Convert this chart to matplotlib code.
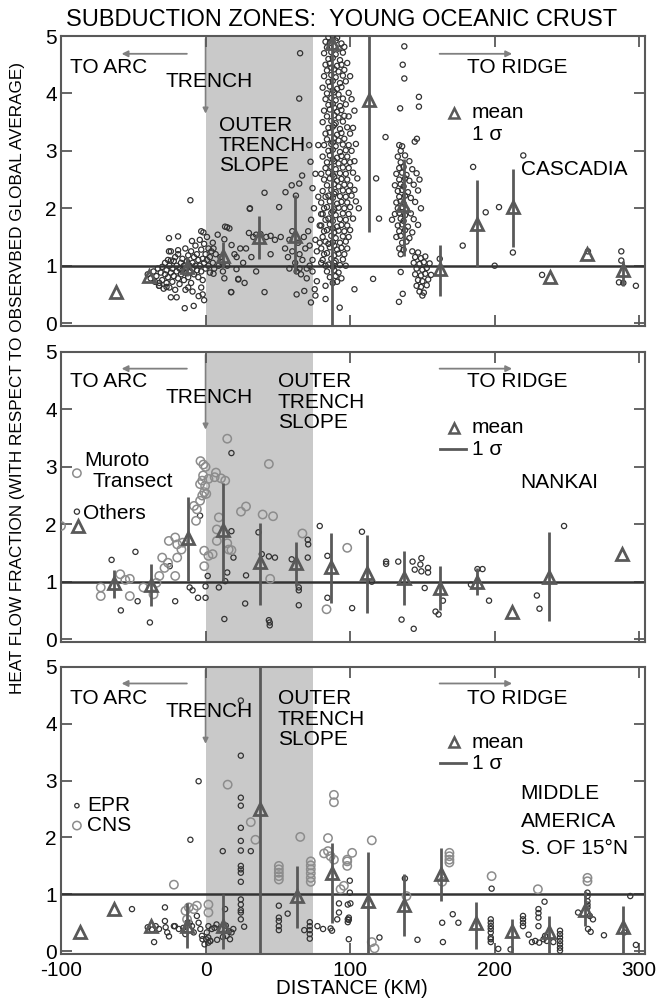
import matplotlib
matplotlib.use('Agg')
import matplotlib.pyplot as plt

plt.rcParams['font.family'] = ['Liberation Sans', 'DejaVu Sans']
plt.rcParams['axes.unicode_minus'] = False

# ---------------- DATA ----------------
x_ticks = [-100, 0, 100, 200, 300]
y_ticks = [0, 1, 2, 3, 4, 5]
slope_zone = (0, 74)

# Cascadia heat-flow points (km, fraction)
cas_left = [(-40,0.85),(-38,0.78),(-36,0.9),(-35,0.72),(-34,0.82),(-33,0.95),(-32,0.65),(-31,0.88),(-30,0.75),(-30,0.98),
    (-29,0.6),(-28,0.85),(-28,1.05),(-27,0.7),(-27,0.92),(-26,1.1),(-26,0.8),(-25,0.62),(-25,1.0),(-24,0.88),(-24,1.25),
    (-23,0.72),(-23,0.95),(-22,1.08),(-22,0.82),(-21,0.58),(-21,1.15),(-20,0.9),(-20,1.0),(-19,0.78),(-19,1.2),(-18,0.95),
    (-18,0.68),(-17,1.05),(-17,0.85),(-16,1.12),(-16,0.92),(-15,0.75),(-15,1.0),(-14,1.3),(-14,0.88),(-13,1.08),(-13,0.95),
    (-12,0.8),(-12,1.18),(-11,1.0),(-11,0.9),(-10,1.25),(-10,0.7),(-9,1.05),(-9,0.95),(-8,1.15),(-8,0.85),(-7,1.35),(-7,1.0),
    (-6,0.92),(-6,1.2),(-5,1.1),(-5,0.8),(-4,1.45),(-4,1.0),(-3,0.9),(-3,1.28),(-2,1.12),(-2,0.75),(-1,1.05),(-1,1.38),(0,0.95),
    (0,1.2),(1,1.1),(1,1.5),(2,1.0),(2,1.3),(3,1.15),(3,0.88),(4,1.25),(5,1.05),(5,1.4),(6,0.95),(7,1.2),(-3,0.62),(-2,0.5),
    (-1,0.4),(-20,0.45),(-9,0.55),(-12,0.62),(-32,0.7),(-10.5,2.14),(-25.3,1.48),(-19,1.51),(-25.3,1.25),(-19,1.27),(-24,1.09),
    (-14.4,0.26),(-8.2,0.30),(-24,0.45),(-4.8,0.47),(-13.9,0.58),(-32.2,0.65),(-27,0.63),(-9.4,1.43),(-3,1.6),(-1.5,1.58)]
cas_slope = [(13.5,1.68),(16.5,1.65),(8.4,1.54),(13,1.46),(18,1.36),(24,1.3),(31.7,1.15),(21.5,1.15),(22.6,0.76),(17.6,0.54),
    (21.4,0.94),(5.5,1.3),(10.3,1.15),(11.2,1.06),(5.5,0.86),(13,0.78),(30,1.57),(35,1.54),(30.6,1.99),(14.9,1.67),(17.8,0.54),
    (22.7,0.77),(9,1.0),(15,1.0),(26,1.05),(28,1.3),(33,1.5),(38,1.55),(42,1.5),(45,1.52),(48,1.45),(52,1.5),(40.8,2.27),
    (30.7,2.0),(50.9,2.02),(40.8,0.54),(35,0.9),(45,1.2),(27,0.7),(20,1.2),(12,0.9),
    (55,1.3),(57,1.15),(58,0.95),(60,1.25),(62,1.05),(63,0.9),(64,1.4),(65,1.2),(66,0.85),(67,1.1),(68,1.5),(69,1.3),(70,0.95),
    (71,1.6),(72,1.35),(73,1.8),(74,1.1),(75,2.0),(76,1.45),(77,1.25),(78,2.2),(79,1.7),(80,1.05),(80,1.9),(63,0.5),(68.3,0.56),
    (75.5,0.59),(76,0.48),(72.9,0.36),(77,0.73),(83,0.65),(83,0.42),(92.8,0.27),(103,0.59),(65.4,4.7),(64.8,3.91),(71.7,3.1),
    (72.6,2.81),(66.8,2.57),(64.8,2.43),(59.6,2.4),(55.3,2.28),(62.5,2.22),(60,1.6),(58,1.45),(65,0.95),(70,0.78),(74,0.9),
    (72,1.0),(76,2.6),(74,2.35),(78,3.1)]
cas_peak = [(85,4.98),(88,5.0),(91,4.97),(83,4.9),(86,4.88),(90,4.92),(94,4.87),(84,4.8),(89,4.82),(92,4.78),(96,4.81),
    (82,4.7),(87,4.72),(90,4.68),(95,4.71),(85,4.6),(88,4.62),(93,4.58),(83,4.5),(86,4.52),(91,4.48),(94,4.5),(98,4.53),
    (84,4.4),(89,4.42),(92,4.38),(96,4.41),(82,4.3),(87,4.32),(90,4.28),(95,4.31),(100,4.3),(85,4.2),(88,4.22),(93,4.18),
    (97,4.21),(81,4.1),(86,4.12),(91,4.08),(94,4.11),(84,4.0),(89,4.02),(92,3.98),(99,4.01),(83,3.9),(87,3.92),(90,3.88),
    (95,3.91),(101,3.9),(85,3.8),(88,3.82),(93,3.78),(97,3.81),(82,3.7),(86,3.72),(91,3.68),(94,3.71),(103,3.7),(84,3.6),
    (89,3.62),(92,3.58),(96,3.61),(99,3.6),(81,3.5),(87,3.52),(90,3.48),(95,3.51),(85,3.4),(88,3.42),(93,3.38),(98,3.41),
    (102,3.4),(83,3.3),(86,3.32),(91,3.28),(94,3.31),(100,3.3),(84,3.2),(89,3.22),(92,3.18),(96,3.21),(82,3.1),(87,3.12),
    (90,3.08),(95,3.11),(99,3.1),(104,3.12),(85,3.0),(88,3.02),(93,2.98),(97,3.01),(101,3.0),(81,2.9),(86,2.92),(91,2.88),
    (94,2.91),(98,2.9),(84,2.8),(89,2.82),(92,2.78),(96,2.81),(100,2.8),(103,2.82),(83,2.7),(87,2.72),(90,2.68),(95,2.71),
    (99,2.7),(80,2.6),(85,2.62),(88,2.58),(93,2.61),(97,2.6),(102,2.62),(82,2.5),(86,2.52),(91,2.48),(94,2.51),(98,2.5),
    (105,2.52),(84,2.4),(89,2.42),(92,2.38),(96,2.41),(100,2.4),(81,2.3),(87,2.32),(90,2.28),(95,2.31),(99,2.3),(103,2.32),
    (83,2.2),(85,2.22),(88,2.18),(93,2.21),(97,2.2),(101,2.22),(80,2.1),(86,2.12),(91,2.08),(94,2.11),(98,2.1),(104,2.12),
    (82,2.0),(84,2.02),(89,1.98),(92,2.01),(96,2.0),(100,2.02),(106,2.0),(81,1.9),(87,1.92),(90,1.88),(95,1.91),(99,1.9),
    (83,1.8),(85,1.82),(88,1.78),(93,1.81),(97,1.8),(102,1.82),(80,1.7),(86,1.72),(91,1.68),(94,1.71),(98,1.7),(82,1.6),
    (84,1.62),(89,1.58),(92,1.61),(96,1.6),(100,1.62),(81,1.5),(87,1.52),(90,1.48),(95,1.51),(99,1.5),(79,1.4),(83,1.42),
    (85,1.38),(88,1.41),(93,1.4),(97,1.42),(80,1.3),(86,1.32),(91,1.28),(94,1.31),(98,1.3),(82,1.2),(84,1.22),(89,1.18),
    (92,1.21),(96,1.2),(81,1.1),(87,1.12),(90,1.08),(95,1.11),(83,1.0),(85,1.02),(88,0.98),(93,1.01),(97,1.0),(84,0.9),
    (89,0.92),(92,0.88),(86,0.8),(90,0.82),(94,0.78),(88,0.7),(91,0.72),(87,4.45),(89,3.75),(88,3.15),(89,2.55),(88,1.95),
    (89,1.35),(88,4.05),(89,3.45),(88,2.85),(89,2.25),(88,1.65),(89,1.05)]
cas_second = [(134,3.1),(136,3.08),(135,3.0),(133,2.9),(138,2.92),(135,2.8),(141,2.82),(134,2.7),(137,2.72),(143,2.68),
    (132,2.6),(136,2.62),(139,2.58),(146,2.61),(134,2.5),(138,2.52),(141,2.48),(148,2.5),(131,2.4),(135,2.42),(137,2.38),
    (144,2.41),(133,2.3),(136,2.32),(140,2.28),(147,2.31),(134,2.2),(138,2.22),(142,2.18),(132,2.1),(135,2.12),(137,2.08),
    (145,2.11),(133,2.0),(136,2.02),(139,1.98),(149,2.0),(131,1.9),(134,1.92),(138,1.88),(142,1.91),(129,1.8),(135,1.82),
    (137,1.78),(144,1.81),(133,1.7),(136,1.72),(140,1.68),(147,1.71),(134,1.6),(138,1.62),(143,1.58),(132,1.5),(135,1.52),
    (141,1.48),(136,1.4),(139,1.42),(134,1.3),(137,1.28),(135,1.2),
    (143,1.25),(147,1.23),(145,1.15),(149,1.13),(152,1.16),(144,1.05),(148,1.03),(151,1.06),(155,1.04),(146,0.95),(150,0.93),
    (153,0.96),(145,0.85),(149,0.83),(152,0.86),(156,0.84),(147,0.75),(150,0.73),(154,0.76),(146,0.65),(149,0.63),(153,0.66),
    (148,0.55),(151,0.53),(150,0.48)]
cas_far = [(115.9,0.77),(120,1.82),(118,2.52),(124.5,3.24),(133.8,0.37),(136.4,0.51),(135,0.89),(137.5,4.82),(136.4,4.5),
    (137.5,4.26),(134.6,3.74),(147.6,3.94),(147.6,3.77),(146.2,3.21),(144.7,3.16),(177.9,1.35),(193.8,1.93),(185.1,2.72),
    (203,2.02),(219.8,2.92),(212.6,1.23),(200,1.0),(232.8,0.84),(264.5,1.25),(287.6,1.25),(287.6,1.09),(286,0.71),
    (289,0.7),(297.7,0.65),(162,1.12)]

cas_mean_x = [-62, -39, -13, 12, 37, 62, 87.6, 113, 136.5, 162, 187.5, 213, 238, 264, 289]
cas_mean_y = [0.55, 0.82, 0.97, 1.17, 1.5, 1.51, 4.88, 3.88, 2.05, 0.95, 1.72, 2.02, 0.8, 1.2, 0.93]
cas_sig_x = [-13, 12, 37, 62, 87.6, 113, 137, 162, 187.5, 213, 289]
cas_sig_lo = [0.82, 0.98, 1.12, 0.88, -0.1, 1.58, 1.17, 0.48, 0.97, 1.33, 0.65]
cas_sig_hi = [1.15, 1.42, 1.86, 2.23, 5.0, 5.0, 2.86, 1.36, 2.5, 2.68, 1.09]

# Nankai
nk_others = [(-65,1.38),(-48.5,1.52),(-58.6,0.5),(-38.5,0.29),(-47,0.66),(-24.8,1.27),(-21,0.66),(-11,0.9),(-9,0.85),
    (-5.2,0.72),(0,0.72),(0,0.92),(1.5,1.1),(-3.8,2.15),(9.2,0.9),(13.6,1.01),(15,1.16),(17.9,1.88),(17.9,3.24),(19.3,1.42),
    (13,0.35),(28,1.11),(27.4,0.62),(36.6,1.86),(38.9,1.48),(43.8,1.44),(48,1.42),(43.8,0.33),(44.4,0.29),(44.4,0.24),
    (59.6,1.39),(64.5,0.9),(64.5,0.85),(64.5,0.59),(70.7,1.73),(71,1.65),(70.7,1.42),(79,1.97),(84.3,1.45),(84.3,0.72),
    (101.4,0.54),(108.2,1.87),(115,1.0),(124.9,1.35),(124.9,1.31),(133.3,1.35),(135.6,0.34),(143.2,1.35),(144,0.18),
    (144.7,1.21),(148.6,1.3),(149.3,1.41),(149.3,1.18),(151.6,0.89),(153.9,1.24),(153.9,1.16),(159.1,0.48),(161.2,0.43),
    (164.2,0.67),(183.6,0.95),(188.1,1.22),(191.6,1.22),(196.1,0.67),(229.2,0.76),(231,0.53),(248,1.97)]
nk_muroto = [(-100,1.97),(-72.5,0.9),(-72.5,0.75),(-59,1.13),(-55.5,1.03),(-52.4,1.05),(-52.4,0.75),(-43,0.9),(-36,0.78),
    (-34,0.98),(-32,1.1),(-28.4,1.24),(-26,1.33),(-30,1.42),(-25.4,1.71),(-21,1.77),(-19.6,1.65),(-16.7,1.56),(-15.8,1.68),
    (-21,1.1),(-19.6,1.42),(-8,2.32),(-6,2.26),(-3.8,2.41),(-2.3,2.5),(-0.9,2.56),(-3.5,3.1),(-1.5,3.04),(0,3.0),(-1.7,2.85),
    (-2.3,2.76),(-3.8,2.7),(-0.3,2.67),(0.5,2.53),(2,2.79),(-6.6,2.06),(-0.9,1.54),(2,1.45),(-0.9,1.27),(7.2,2.9),(6.3,2.82),
    (10.7,2.8),(13.6,2.76),(15,3.49),(7.8,1.91),(9.2,2.12),(7.8,1.71),(4.9,1.48),(16,1.56),(17.9,1.55),(15,1.67),(24.5,2.22),
    (28,2.31),(39.5,2.17),(46.7,2.14),(43.8,3.05),(44.7,1.05),(67,1.84),(83.7,0.52),(98,1.59)]
nk_mean_x = [-88, -63, -38, -12, 12, 37.5, 62.5, 87, 112, 137, 162.5, 187.5, 212, 237.5, 288]
nk_mean_y = [1.97, 0.98, 0.95, 1.76, 1.9, 1.34, 1.33, 1.26, 1.15, 1.06, 0.89, 0.99, 0.48, 1.08, 1.49]
nk_sig_x = [-63, -38, -12, 12, 37.5, 62.5, 87, 112, 137, 162.5, 187.5, 237.5]
nk_sig_lo = [0.72, 0.57, 1.01, 1.01, 0.6, 0.92, 0.63, 0.46, 0.6, 0.51, 0.77, 0.31]
nk_sig_hi = [1.2, 1.3, 2.48, 2.72, 2.03, 1.7, 1.85, 1.82, 1.53, 1.28, 1.24, 1.87]

# Middle America
ma_epr = [(-50.9,0.74),(-28.1,0.77),(-35.6,0.16),(-34.5,0.44),(-32.2,0.39),(-28.1,0.53),(-27.6,0.42),(-26.5,0.33),
    (-25.3,0.26),(-21.9,0.44),(-18.5,0.39),(-21.2,0.44),(-15.4,0.41),(-12.6,0.5),(-10.5,1.96),(-4.8,2.99),(-9.4,0.44),
    (-8.2,0.33),(-6,0.62),(-4.8,0.5),(-3.6,0.39),(-2.5,0.27),(-2.1,0.21),(-0.7,0.12),(0.9,0.33),(2,0.44),(3.2,0.18),
    (4.3,0.39),(1.9,0.15),(1.9,0.24),(3.3,0.18),(0.4,0.21),(6.2,0.41),(7.6,0.47),(10.5,0.39),(11.9,1.76),(13.5,0.74),
    (14.6,0.27),(16.9,0.21),(18,0.33),(19.2,0.39),(24.4,4.41),(24.4,3.44),(24.4,2.7),(24.4,2.56),(24.4,2.17),(24.4,1.94),
    (24.4,1.77),(31.3,1.76),(24.4,1.5),(24.4,1.44),(24.4,1.38),(24.4,1.22),(24.4,0.91),(24.4,0.82),(24.4,0.72),(24.4,0.68),
    (24.4,0.56),(26.7,0.43),(50.7,0.8),(50.7,0.59),(50.7,0.53),(50.7,0.44),(50.7,0.37),(56.8,0.66),(68.3,0.37),(72.1,0.51),
    (72.1,0.44),(72.1,0.37),(72.1,0.3),(72.1,0.22),(77.4,0.44),(81.3,0.39),(86.5,0.4),(87.5,0.36),(91.1,0.56),(92.3,0.84),
    (92.3,0.68),(99.1,0.59),(99.1,0.55),(99.1,0.21),(99.8,1.24),(99.8,1.03),(100.2,0.84),(98.4,0.82),(98.4,0.56),
    (98.4,0.51),(120.3,0.24),(137.9,1.28),(146.6,0.2),(163.7,0.5),(164.2,0.16),(171,0.65),(174.9,0.5),(197.9,1.1),
    (197.3,0.56),(197.3,0.5),(197.3,0.44),(197.3,0.39),(197.3,0.33),(197.3,0.24),(197.3,0.21),(197.3,0.16),(202.5,0.04),
    (211,0.03),(219.6,0.62),(219.6,0.56),(219.6,0.5),(219.6,0.44),(223.5,0.29),(230.3,0.74),(230.3,0.67),(230.3,0.59),
    (230.3,0.44),(234.5,0.87),(225.8,0.16),(228.1,0.18),(230.8,0.15),(233.8,0.21),(236.1,0.18),(240.6,0.16),(234.9,0.27),
    (245.2,0.36),(245.2,0.3),(245.2,0.24),(245.2,0.18),(245.2,0.12),(245.2,0.06),(245.2,0.01),(264.2,1.03),(264.2,0.97),
    (264.2,0.88),(264.2,0.82),(264.2,0.77),(265.8,0.62),(268,0.56),(264.6,0.39),(266.4,0.34),(257.7,0.68),(275.6,0.28),
    (293.8,0.97),(297.7,0.11),(289.7,0.33),(-40,0.42),(-37,0.38),(-14,0.3),(-11,0.5),(8,0.2),(12,0.25),(14,0.45),(16,0.35)]
ma_cns = [(-21.9,1.17),(-13.9,0.71),(-11.6,0.77),(-8.2,0.74),(-6,0.8),(-12.8,0.56),(2,0.82),(2,0.68),(15.3,2.93),
    (31.3,2.27),(34.5,1.96),(65.5,2.01),(50.7,1.5),(50.7,1.44),(50.7,1.38),(50.7,1.32),(50.7,1.26),(72.8,1.58),(72.8,1.51),
    (72.8,1.44),(72.8,1.37),(72.8,1.29),(72.8,1.22),(84.7,1.99),(82,1.72),(84.7,1.76),(86.5,1.67),(88.8,1.61),(88.8,2.75),
    (88.8,2.62),(98,1.58),(98,1.5),(101.4,1.73),(93.4,1.09),(95.7,1.15),(98,1.61),(115,1.95),(115,0.16),(116.9,0.05),
    (139,0.97),(163.7,1.22),(168.7,1.73),(168.7,1.67),(168.7,1.61),(168.7,1.56),(197.9,1.32),(229.9,1.09),(264.2,1.29),
    (264.2,1.23)]
ma_mean_x = [-87, -63, -38, -12.5, 12, 38, 63, 87.6, 112.5, 137.5, 162.6, 187, 212, 237.5, 262.5, 288.5]
ma_mean_y = [0.34, 0.75, 0.44, 0.44, 0.44, 2.5, 0.97, 1.37, 0.89, 0.82, 1.35, 0.5, 0.36, 0.33, 0.72, 0.42]
ma_sig_x = [-13, 12, 38, 63, 87.6, 112.5, 137.5, 162.6, 187, 212, 237.5, 262.5, 288.5]
ma_sig_lo = [0.06, 0.03, -0.1, 0.41, 0.5, -0.1, 0.27, 0.88, 0.04, -0.05, -0.05, 0.44, -0.05]
ma_sig_hi = [0.85, 1.0, 5.0, 1.5, 1.9, 1.75, 1.35, 1.82, 0.87, 0.56, 0.62, 1.06, 0.8]

# ---------------- STYLE ----------------
W, H = 657, 999
DARK = '#333333'
MID = '#595959'
LIGHT = '#8c8c8c'
FS = 15

fig = plt.figure(figsize=(W/100, H/100), dpi=100)

def rect(top, bottom, left=61, right=645):
    return [left/W, 1-bottom/H, (right-left)/W, (bottom-top)/H]

axes = [fig.add_axes(rect(36, 326)), fig.add_axes(rect(352, 642)), fig.add_axes(rect(667, 954))]

def small(ax, pts, s=14, ec=DARK):
    xs, ys = zip(*pts)
    ax.scatter(xs, ys, s=s, facecolors='none', edgecolors=ec, linewidths=0.9, zorder=3)

def big(ax, pts):
    xs, ys = zip(*pts)
    ax.scatter(xs, ys, s=36, facecolors='none', edgecolors=LIGHT, linewidths=1.1, zorder=3)

def means(ax, mx, my, sx, lo, hi):
    ax.vlines(sx, lo, hi, color=MID, lw=2, zorder=4)
    ax.plot(mx, my, ls='none', marker='^', ms=9, mfc='none', mec=MID, mew=2, zorder=5)

def base(ax, bottom_labels=False):
    ax.set_xlim(-100, 304)
    ax.set_ylim(-0.05, 5)
    ax.axvspan(*slope_zone, color='#c9c9c9', zorder=0, lw=0)
    ax.axhline(1, color=DARK, lw=1.8, zorder=2)
    ax.set_xticks(x_ticks)
    ax.set_yticks(y_ticks)
    ax.tick_params(direction='in', length=8, width=1.3, color=MID, top=True, right=True,
                   labelsize=FS, labelbottom=bottom_labels)
    ax.tick_params(axis='y', pad=3)
    ax.tick_params(axis='x', pad=5)
    for sp in ax.spines.values():
        sp.set_color(MID)
        sp.set_linewidth(1.5)

def annotations(ax, arc_y, arr_y, trench_y, outer_x, outer_y, ridge_y, leg_y, sig_line):
    ax.text(-94, arc_y, 'TO ARC', fontsize=FS, va='center', ha='left', zorder=6)
    ax.annotate('', xy=(-60, arr_y), xytext=(-11, arr_y),
                arrowprops=dict(arrowstyle='-|>', color='#808080', lw=1.3, mutation_scale=9), zorder=6)
    ax.annotate('', xy=(214, arr_y), xytext=(160, arr_y),
                arrowprops=dict(arrowstyle='-|>', color='#808080', lw=1.3, mutation_scale=9), zorder=6)
    ax.text(181, ridge_y, 'TO RIDGE', fontsize=FS, va='center', ha='left', zorder=6)
    ax.text(-28, trench_y, 'TRENCH', fontsize=FS, va='center', ha='left', zorder=6)
    ax.annotate('', xy=(0, 3.6), xytext=(0, 5.0),
                arrowprops=dict(arrowstyle='-|>', color='#808080', lw=1.2, mutation_scale=8), zorder=1)
    for i, w in enumerate(['OUTER', 'TRENCH', 'SLOPE']):
        ax.text(outer_x, outer_y - i*0.355, w, fontsize=FS, va='center', ha='left', zorder=6)
    ax.plot([172], [leg_y], ls='none', marker='^', ms=7, mfc='none', mec=MID, mew=1.8, zorder=6)
    ax.text(184, leg_y, 'mean', fontsize=FS, va='center', ha='left', zorder=6)
    if sig_line:
        ax.plot([162, 180], [leg_y - 0.37]*2, color=MID, lw=2, zorder=6)
    ax.text(184, leg_y - 0.37, '1 σ', fontsize=FS, va='center', ha='left', zorder=6)

# ---------------- PANEL 1: CASCADIA ----------------
ax = axes[0]
base(ax)
for grp in (cas_left, cas_slope, cas_peak, cas_second, cas_far):
    small(ax, grp)
means(ax, cas_mean_x, cas_mean_y, cas_sig_x, cas_sig_lo, cas_sig_hi)
annotations(ax, 4.45, 4.69, 4.2, 9, 3.45, 4.45, 3.66, False)
ax.text(218, 2.68, 'CASCADIA', fontsize=FS, va='center', ha='left', zorder=6)

# ---------------- PANEL 2: NANKAI ----------------
ax = axes[1]
base(ax)
small(ax, nk_others)
big(ax, nk_muroto)
means(ax, nk_mean_x, nk_mean_y, nk_sig_x, nk_sig_lo, nk_sig_hi)
annotations(ax, 4.48, 4.71, 4.21, 50, 4.48, 4.48, 3.68, True)
ax.text(218, 2.72, 'NANKAI', fontsize=FS, va='center', ha='left', zorder=6)
big(ax, [(-89, 2.89)])
small(ax, [(-89, 2.22)])
ax.text(-84, 3.11, 'Muroto', fontsize=FS, va='center', ha='left', zorder=6)
ax.text(-78.5, 2.75, 'Transect', fontsize=FS, va='center', ha='left', zorder=6)
ax.text(-85, 2.19, 'Others', fontsize=FS, va='center', ha='left', zorder=6)

# ---------------- PANEL 3: MIDDLE AMERICA ----------------
ax = axes[2]
base(ax, bottom_labels=True)
small(ax, ma_epr)
big(ax, ma_cns)
means(ax, ma_mean_x, ma_mean_y, ma_sig_x, ma_sig_lo, ma_sig_hi)
annotations(ax, 4.44, 4.71, 4.21, 50, 4.44, 4.44, 3.68, True)
for i, w in enumerate(['MIDDLE', 'AMERICA', 'S. OF 15°N']):
    ax.text(218, 2.78 - i*0.49, w, fontsize=FS, va='center', ha='left', zorder=6)
small(ax, [(-89, 2.56)], s=10)
big(ax, [(-89, 2.21)])
ax.text(-82, 2.56, 'EPR', fontsize=FS, va='center', ha='left', zorder=6)
ax.text(-82, 2.21, 'CNS', fontsize=FS, va='center', ha='left', zorder=6)

# ---------------- FIGURE TEXT ----------------
fig.text(342/W, 1-20/H, 'SUBDUCTION ZONES:  YOUNG OCEANIC CRUST', fontsize=17, ha='center', va='center')
fig.text(18/W, 1-378/H, 'HEAT FLOW FRACTION (WITH RESPECT TO OBSERVBED GLOBAL AVERAGE)',
         fontsize=12.3, rotation=90, ha='center', va='center')
fig.text(352/W, 1-988/H, 'DISTANCE (KM)', fontsize=14.8, ha='center', va='center')

fig.savefig('out.png', dpi=100)
